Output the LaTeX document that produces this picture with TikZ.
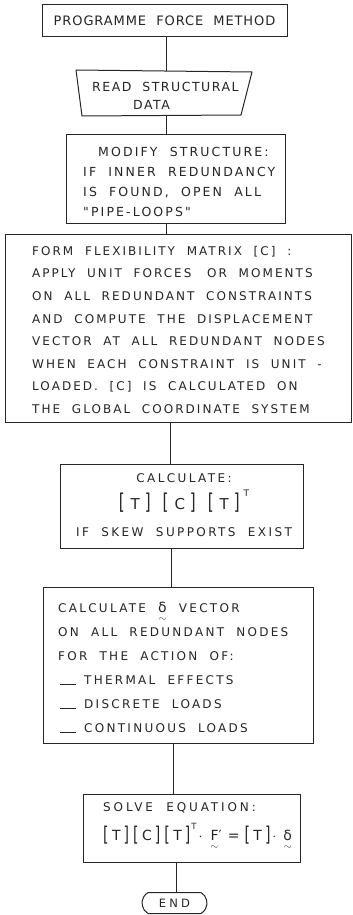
\documentclass[tikz,border=0pt]{standalone}
\usepackage{fontspec}
\usepackage{amsmath}
\usepackage{graphicx}
\setmainfont{DejaVu Sans}[Ligatures=TeXOff, WordSpace=2]
\usetikzlibrary{shapes.misc}
\newcommand\lbk{\raisebox{-0.5pt}{\scalebox{1}[1.45]{[}}}
\newcommand\rbk{\raisebox{-0.5pt}{\scalebox{1}[1.45]{]}}}
\newcommand\utl[1]{\ensuremath{\underset{\sim}{\text{#1}}}}
\newcommand\dashitem{\hspace*{2pt}\rule[0pt]{16pt}{0.8pt}\hspace*{8pt}}
\newcommand\grp[1]{\lbk\hspace{6pt}#1\hspace{5pt}\rbk}
\newcommand\grq[1]{\lbk\hspace{3.5pt}#1\hspace{3pt}\rbk}
\begin{document}
\begin{tikzpicture}[x=1pt,y=-1pt,
  ink/.style={draw=black!85, line width=1pt},
  box/.style={ink, rectangle, inner sep=0pt},
  txt/.style={text=black!85, inner sep=0pt, align=left, anchor=west},
  link/.style={draw=black!85, line width=1pt},
  fa/.style={font=\fontsize{13}{15}\selectfont\addfontfeature{LetterSpace=7}},
  fb/.style={font=\fontsize{12.5}{18}\selectfont\addfontfeature{LetterSpace=12}},
  fc/.style={font=\fontsize{12.5}{20}\selectfont\addfontfeature{LetterSpace=17}},
  fd/.style={font=\fontsize{12}{22.6}\selectfont\addfontfeature{LetterSpace=17}},
  fe/.style={font=\fontsize{12}{27}\selectfont\addfontfeature{LetterSpace=20}},
  ff/.style={font=\fontsize{12}{24}\selectfont\addfontfeature{LetterSpace=19}},
  fg/.style={font=\fontsize{12}{29}\selectfont\addfontfeature{LetterSpace=24}},
  fh/.style={font=\fontsize{11.5}{13}\selectfont\addfontfeature{LetterSpace=28}}]
\useasboundingbox[fill=white] (0,0) rectangle (353,915);

% start
\node[box, minimum width=245pt, minimum height=32pt, text=black!85, fa] (b1) at (164.5,21) {PROGRAMME FORCE METHOD};

% input (trapezoid)
\coordinate (q1) at (76,70);
\coordinate (q2) at (252,72);
\coordinate (q3) at (241,115);
\coordinate (q4) at (82,116);
\draw[ink, line join=round] (q1) -- (q2) -- (q3) -- (q4) -- cycle;
\coordinate (c2t) at (166,71);
\coordinate (c2b) at (166,115.5);
\node[txt, fb] (t2) at (92,96) {READ STRUCTURAL\\\hspace*{41pt}DATA};

\node[box, minimum width=219pt, minimum height=88pt] (b3) at (175.5,179) {};
\node[txt, fc] (t3) at (83,182) {\hspace*{15pt}MODIFY STRUCTURE:\\IF INNER REDUNDANCY\\IS FOUND, OPEN ALL\\"PIPE-LOOPS"};

\node[box, minimum width=346.5pt, minimum height=188pt] (b4) at (178.25,328) {};
\node[txt, fd] (t4) at (32,330) {FORM FLEXIBILITY MATRIX [C] :\\APPLY UNIT FORCES\hspace{4pt} OR MOMENTS\\ON ALL REDUNDANT CONSTRAINTS\\AND COMPUTE THE DISPLACEMENT\\VECTOR AT ALL REDUNDANT NODES\\WHEN EACH CONSTRAINT IS UNIT -\\LOADED. [C] IS CALCULATED ON\\THE GLOBAL COORDINATE SYSTEM};

\node[box, minimum width=243pt, minimum height=84pt] (b5) at (181.5,506) {};
\node[txt, anchor=center, align=center, fe] (t5) at (184,505) {CALCULATE:\\{\fontsize{15}{27}\selectfont\grp{T}\hspace{12pt}\grp{C}\hspace{12pt}\grp{T}\hspace{4pt}\raisebox{13pt}{\fontsize{9}{9}\selectfont T}}\\IF SKEW SUPPORTS EXIST};

\node[box, minimum width=270.5pt, minimum height=156pt] (b6) at (178.25,665) {};
\node[txt, ff] (t6) at (58,667.6) {CALCULATE {\fontsize{14}{14}\selectfont\utl{δ}} VECTOR\\ON ALL REDUNDANT NODES\\FOR THE ACTION OF:\\\dashitem THERMAL EFFECTS\\\dashitem DISCRETE LOADS\\\dashitem CONTINUOUS LOADS};

\node[box, minimum width=217pt, minimum height=68pt] (b7) at (191.5,828) {};
\node[txt, fg] (t7) at (103,827) {SOLVE EQUATION:\\{\fontsize{14}{29}\selectfont\grq{T}\hspace{4pt}\grq{C}\hspace{4pt}\grq{T}\hspace{1pt}\raisebox{11pt}{\fontsize{8.5}{8.5}\selectfont T}\hspace{2pt}$\cdot$\hspace{8pt}\utl{F}′\hspace{6pt}=\hspace{5pt}\grq{T}\hspace{2pt}$\cdot$\hspace{7pt}\utl{δ}}};

\node[ink, rounded rectangle, rounded rectangle arc length=120, minimum width=65pt, minimum height=21pt, inner sep=0pt, text=black!85, fh] (end) at (174.5,903) {END};

\coordinate (k1) at (166,0);
\coordinate (k4) at (170,0);
\coordinate (k5) at (171,0);
\coordinate (k6) at (173,0);
\coordinate (k7) at (176,0);
\draw[link] (b1.south -| k1) -- (c2t);
\draw[link] (c2b) -- (b3.north -| k1);
\draw[link] (b3.south -| k1) -- (b4.north -| k1);
\draw[link] (b4.south -| k4) -- (b5.north -| k4);
\draw[link] (b5.south -| k5) -- (b6.north -| k5);
\draw[link] (b6.south -| k6) -- (b7.north -| k6);
\draw[link] (b7.south -| k7) -- (end.north -| k7);
\end{tikzpicture}
\end{document}
